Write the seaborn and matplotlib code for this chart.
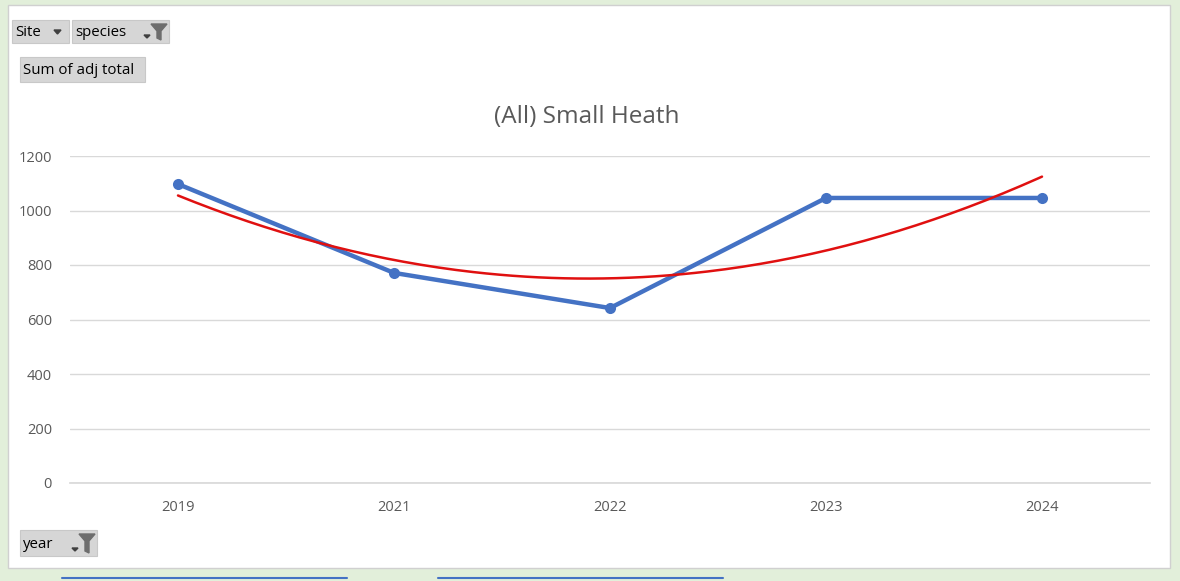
import numpy as np
import pandas as pd
import matplotlib
matplotlib.use('Agg')
import matplotlib.pyplot as plt
import seaborn as sns
from matplotlib.patches import Rectangle, Polygon

# Data -------------------------------------------------------------------
years = ['2019', '2021', '2022', '2023', '2024']
adj_total = [1097, 771, 642, 1046, 1046]
yticks = [0, 200, 400, 600, 800, 1000, 1200]

data = pd.DataFrame({'year': years, 'total': adj_total})
data['pos'] = np.arange(len(years))

# polynomial (order 2) trendline, like Excel's
coef = np.polyfit(data['pos'] + 1, data['total'], 2)
xs = np.linspace(1, len(years), 200)
trend = pd.DataFrame({'pos': xs - 1, 'fit': np.polyval(coef, xs)})

sns.set_theme(style='white')
plt.rcParams['font.family'] = ['Open Sans', 'DejaVu Sans']

W, H = 1180, 581
fig = plt.figure(figsize=(W / 100, H / 100), dpi=100)
fig.patch.set_facecolor('#e2efda')

# pixel-coordinate layer for the chart frame and the pivot buttons
deco = fig.add_axes([0, 0, 1, 1])
deco.set_xlim(0, W)
deco.set_ylim(H, 0)
deco.axis('off')
deco.add_patch(Rectangle((8, 5), 1162, 563, facecolor='white', edgecolor='#d0d0d0', lw=1))

def button(x, y, w, h, label, funnel=False, arrow=True):
    deco.add_patch(Rectangle((x, y), w, h, facecolor='#d6d6d6', edgecolor='#c8c8c8', lw=0.8))
    deco.text(x + 3, y + h / 2 + 1, label, fontsize=10.8, color='black', va='center', ha='left')
    if funnel:
        fx = x + w - 18
        deco.add_patch(Polygon([[fx, y + 4], [fx + 16, y + 4], [fx + 10, y + 11], [fx + 10, y + h - 3],
                                [fx + 6, y + h - 5], [fx + 6, y + 11]], closed=True, color='#6d6d6d'))
        deco.add_patch(Polygon([[fx - 7, y + h - 8], [fx - 1, y + h - 8], [fx - 4, y + h - 5]],
                               closed=True, color='#404040'))
    elif arrow:
        deco.add_patch(Polygon([[x + w - 15, y + 10], [x + w - 8, y + 10], [x + w - 11.5, y + 14]],
                               closed=True, color='#404040'))

button(12, 20, 57, 23, 'Site')
button(72, 20, 97, 23, 'species', funnel=True)
button(20, 57, 125, 25, 'Sum of adj total', arrow=False)
button(20, 530, 77, 26, 'year', funnel=True)

# partial controls peeking in at the bottom
deco.plot([62, 347], [578, 578], color='#4472c4', lw=1.5)
deco.plot([438, 723], [578, 578], color='#4472c4', lw=1.5)

fig.text(587 / W, 1 - 117 / H, '(All) Small Heath', ha='center', va='center',
         fontsize=17.5, color='#595959')

# chart ------------------------------------------------------------------
ax = fig.add_axes([70 / W, (H - 483) / H, 1080 / W, 327 / H])
ax.set_facecolor('none')
sns.lineplot(data=data, x='pos', y='total', ax=ax, color='#4472c4', lw=3.2,
             marker='o', markersize=8, markeredgewidth=0)
sns.lineplot(data=trend, x='pos', y='fit', ax=ax, color='#e01010', lw=1.8)

ax.set_xlim(-0.5, len(years) - 0.5)
ax.set_ylim(0, 1200)
ax.set_yticks(yticks)
ax.set_xticks(data['pos'])
ax.set_xticklabels(years)
ax.grid(axis='y', color='#d9d9d9', lw=1)
ax.set_axisbelow(True)
for s in ['top', 'right', 'left']:
    ax.spines[s].set_visible(False)
ax.spines['bottom'].set_color('#d9d9d9')
ax.tick_params(axis='both', length=0, labelsize=10.5, colors='#595959')
ax.tick_params(axis='x', pad=12)
ax.tick_params(axis='y', pad=13)
ax.set_xlabel('')
ax.set_ylabel('')

plt.savefig('out.png', dpi=100, facecolor=fig.get_facecolor())
